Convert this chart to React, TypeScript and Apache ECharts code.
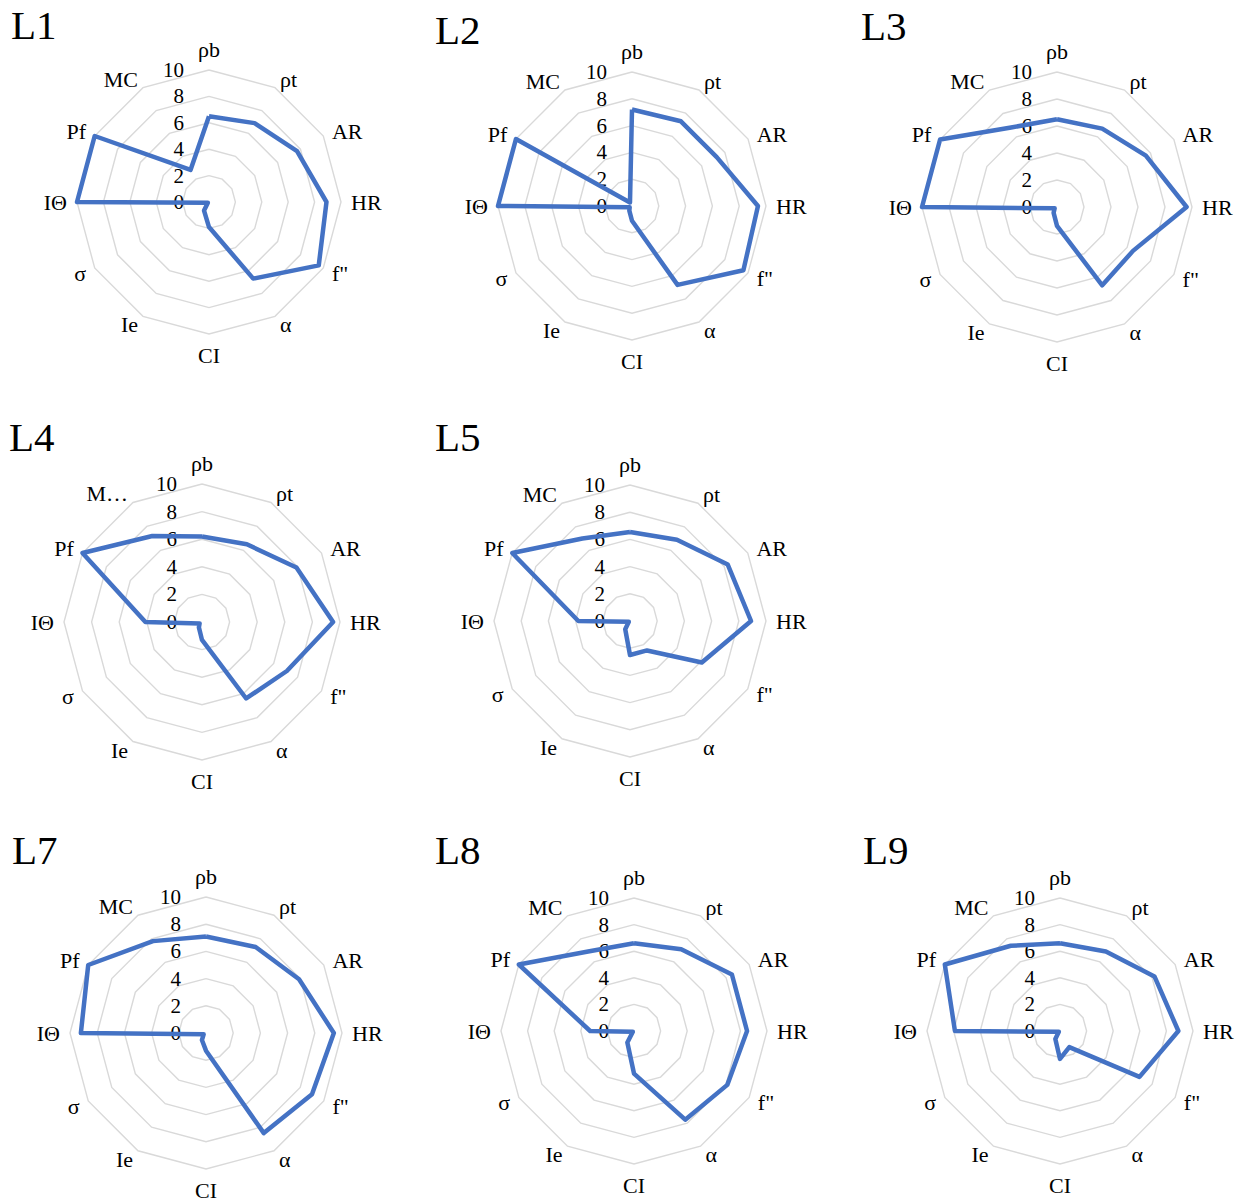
import React, { useEffect, useRef } from "react";
import * as echarts from "echarts";

// Indicator names, clockwise from the top
const indicatorNames = ["ρb", "ρt", "AR", "HR", "f\"", "α", "CI", "Ie", "σ", "IΘ", "Pf", "MC"];
const indicatorNamesL4 = ["ρb", "ρt", "AR", "HR", "f\"", "α", "CI", "Ie", "σ", "IΘ", "Pf", "M…"];

const panelLabels = ["L1", "L2", "L3", "L4", "L5", "L7", "L8", "L9"];

// Values, clockwise order: ρb, ρt, AR, HR, f", α, CI, Ie, σ, IΘ, Pf, MC
const valuesL1 = [6.5, 6.9, 7.7, 8.9, 9.6, 6.7, 1.9, 0.75, 0.1, 10, 10, 2.8];
const valuesL2 = [7.2, 7.3, 7.3, 9.4, 9.6, 6.8, 1.1, 0.4, 0.2, 10, 10, 0.3];
const valuesL3 = [6.5, 6.7, 7.6, 9.6, 6.5, 6.7, 1.4, 0.5, 0.2, 10, 10, 6.8];
const valuesL4 = [6.2, 6.5, 7.9, 9.5, 7.1, 6.4, 1.3, 0.45, 0.2, 4.1, 10, 7.2];
const valuesL5 = [6.55, 6.9, 8.3, 8.9, 6.1, 2.5, 2.5, 0.7, 0.1, 3.8, 10, 7.0];
const valuesL7 = [7.1, 7.3, 7.9, 9.4, 9.0, 8.5, 1.3, 0.6, 0.2, 9.2, 10, 7.8];
const valuesL8 = [6.6, 7.1, 8.5, 8.5, 8.1, 7.7, 3.2, 1.0, 0.1, 3.3, 10, 6.9];
const valuesL9 = [6.6, 6.9, 8.2, 8.9, 6.9, 1.4, 2.1, 0.7, 0.1, 7.9, 10, 7.4];

const axisMin = 0;
const axisMax = 10;
const axisSplits = 5;

const panelValues = [valuesL1, valuesL2, valuesL3, valuesL4, valuesL5, valuesL7, valuesL8, valuesL9];
const panelNames = [indicatorNames, indicatorNames, indicatorNames, indicatorNamesL4, indicatorNames, indicatorNames, indicatorNames, indicatorNames];

// Layout (pixels)
const panelCenters = [
  [209, 202], [632, 206], [1057, 207],
  [202, 622], [630, 621],
  [206, 1033], [634, 1031], [1060, 1031],
];
const panelRadii = [132, 134, 135, 138, 136, 136, 133, 133];
const titlePos = [
  [11, 4], [435, 9], [861, 5],
  [9, 416], [435, 416],
  [12, 829], [435, 829], [863, 829],
];

const FONT = "Liberation Serif";
const LINE_COLOR = "#4472C4";
const GRID_COLOR = "#D9D9D9";

// ECharts lays radar indicators counter-clockwise; reorder so they read clockwise
const order = [0, 11, 10, 9, 8, 7, 6, 5, 4, 3, 2, 1];

export default function App() {
  const ref = useRef<HTMLDivElement>(null);
  useEffect(() => {
    if (!ref.current) return;
    const chart = echarts.init(ref.current, null, { renderer: "svg" });
    const radar = panelValues.map((_, p) => ({
      center: panelCenters[p],
      radius: panelRadii[p],
      startAngle: 90,
      shape: "polygon",
      splitNumber: axisSplits,
      nameGap: 10,
      indicator: order.map((i) => ({
        name: panelNames[p][i],
        min: axisMin,
        max: axisMax,
        ...(i === 0 ? { axisLabel: { show: true } } : {}),
      })),
      axisName: { color: "#000", fontSize: 22, fontFamily: FONT },
      splitLine: { lineStyle: { color: GRID_COLOR, width: 1.4 } },
      splitArea: { show: false },
      axisLine: { show: false },
      axisTick: { show: false },
      axisLabel: { show: false, color: "#000", fontSize: 21, fontFamily: FONT, margin: 25 },
    }));
    const series = panelValues.map((vals, p) => ({
      type: "radar",
      radarIndex: p,
      symbol: "none",
      silent: true,
      lineStyle: { color: LINE_COLOR, width: 4.5 },
      data: [{ value: order.map((i) => vals[i]) }],
    }));
    const title = panelLabels.map((t, p) => ({
      text: t,
      left: titlePos[p][0],
      top: titlePos[p][1],
      padding: 0,
      textStyle: { fontFamily: FONT, fontSize: 41, fontWeight: "normal", color: "#000" },
    }));
    chart.setOption({
      animation: false,
      backgroundColor: "#fff",
      title,
      radar,
      series,
    });
    return () => chart.dispose();
  }, []);
  return (
    <div
      ref={ref}
      style={{ position: "absolute", left: 0, top: 0, width: 1245, height: 1202 }}
    />
  );
}
